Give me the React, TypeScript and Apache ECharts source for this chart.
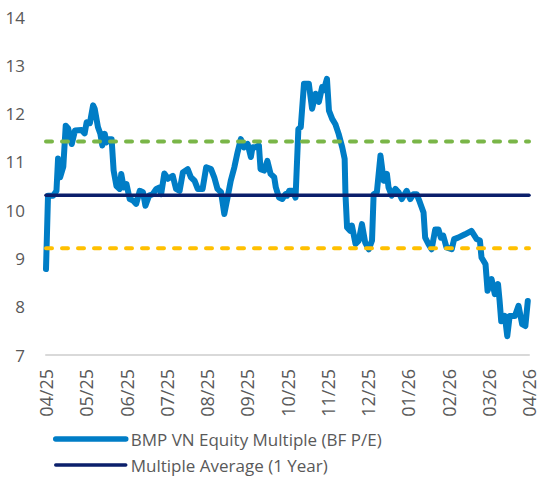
import React, { useEffect, useRef } from "react";
import * as echarts from "echarts";

const tickLabels = ["04/25", "05/25", "06/25", "07/25", "08/25", "09/25", "10/25", "11/25", "12/25", "01/26", "02/26", "03/26", "04/26"];

// position along the axis in months since 04/25
const monthPos = [
  0.0, 0.05, 0.18, 0.26, 0.3, 0.35, 0.43, 0.49, 0.55, 0.64, 0.72, 0.88, 0.96, 1.01, 1.09, 1.17, 1.21, 1.29, 1.35, 1.4,
  1.46, 1.5, 1.54, 1.63, 1.68, 1.75, 1.83, 1.87, 1.93, 2.0, 2.08, 2.16, 2.24, 2.33, 2.41, 2.47, 2.56, 2.65, 2.74, 2.82,
  2.86, 2.94, 3.03, 3.15, 3.23, 3.32, 3.4, 3.52, 3.6, 3.69, 3.77, 3.89, 3.98, 4.1, 4.18, 4.26, 4.35, 4.43, 4.51, 4.59,
  4.68, 4.76, 4.84, 4.92, 5.01, 5.09, 5.13, 5.21, 5.29, 5.33, 5.42, 5.5, 5.58, 5.67, 5.71, 5.79, 5.87, 5.95, 5.99, 6.04,
  6.12, 6.2, 6.27, 6.33, 6.41, 6.53, 6.61, 6.7, 6.78, 6.86, 6.9, 6.98, 7.03, 7.11, 7.19, 7.27, 7.36, 7.42, 7.44, 7.48,
  7.56, 7.6, 7.69, 7.77, 7.85, 7.93, 8.02, 8.1, 8.14, 8.22, 8.31, 8.39, 8.47, 8.51, 8.59, 8.68, 8.76, 8.84, 8.96, 9.05,
  9.13, 9.21, 9.29, 9.38, 9.42, 9.5, 9.58, 9.67, 9.75, 9.81, 9.87, 9.95, 10.08, 10.14, 10.24, 10.41, 10.57, 10.7, 10.78, 10.82,
  10.92, 10.97, 11.07, 11.15, 11.23, 11.27, 11.31, 11.4, 11.46, 11.52, 11.65, 11.74, 11.83, 11.91, 11.97,
];

const peValues = [
  8.78, 10.3, 10.3, 10.4, 11.07, 10.68, 10.9, 11.75, 11.69, 11.37, 11.65, 11.66, 11.59, 11.82, 11.8, 12.17, 12.1, 11.72, 11.58, 11.34,
  11.58, 11.4, 11.47, 11.47, 10.82, 10.5, 10.44, 10.75, 10.47, 10.54, 10.23, 10.2, 10.13, 10.4, 10.37, 10.09, 10.3, 10.33, 10.44, 10.47,
  10.33, 10.76, 10.65, 10.71, 10.44, 10.4, 10.78, 10.85, 10.68, 10.61, 10.44, 10.44, 10.89, 10.85, 10.68, 10.44, 10.37, 9.92, 10.26, 10.61,
  10.89, 11.2, 11.47, 11.3, 11.37, 11.1, 11.3, 11.3, 11.34, 10.85, 10.82, 11.02, 10.75, 10.68, 10.47, 10.26, 10.23, 10.33, 10.3, 10.4,
  10.4, 10.26, 11.68, 11.72, 12.62, 12.62, 12.1, 12.41, 12.24, 12.55, 12.48, 12.72, 12.06, 11.89, 11.78, 11.58, 11.3, 11.06, 10.33, 9.64,
  9.57, 9.68, 9.3, 9.37, 9.71, 9.33, 9.19, 9.37, 10.33, 10.37, 11.13, 10.61, 10.75, 10.47, 10.3, 10.44, 10.37, 10.23, 10.4, 10.23,
  10.33, 10.33, 10.16, 9.95, 9.43, 9.3, 9.19, 9.6, 9.6, 9.43, 9.47, 9.23, 9.19, 9.4, 9.43, 9.5, 9.57, 9.4, 9.37, 9.02,
  8.88, 8.33, 8.57, 8.26, 8.47, 8.12, 7.7, 7.81, 7.39, 7.81, 7.81, 8.02, 7.64, 7.6, 8.12,
];

const averageValue = 10.31;
const upperBand = 11.42;
const lowerBand = 9.21;
const axisStart = 0;
const axisEnd = 12;

const seriesNames = ["BMP VN Equity Multiple (BF P/E)", "Multiple Average (1 Year)"];

const FONT = "Open Sans";
const TEXT = "#595959";
const BLUE = "#007DC6";
const NAVY = "#0B1F6B";

export default function App() {
  const ref = useRef<HTMLDivElement>(null);
  useEffect(() => {
    document.body.style.margin = "0";
    document.body.style.overflow = "hidden";
    document.documentElement.style.overflow = "hidden";
    if (!ref.current) return;
    const chart = echarts.init(ref.current, undefined, { renderer: "svg" });
    const flat = (v: number) => [
      [axisStart, v],
      [axisEnd, v],
    ];
    chart.setOption({
      animation: false,
      textStyle: { fontFamily: FONT },
      grid: { left: 46, right: 10, top: 17, bottom: 125, containLabel: false },
      legend: {
        orient: "vertical",
        left: 53,
        top: 430,
        padding: 0,
        itemWidth: 70,
        itemHeight: 14,
        itemGap: 8,
        data: [
          { name: seriesNames[0], itemStyle: { opacity: 0 }, lineStyle: { width: 5.5, color: BLUE, cap: "round" } },
          { name: seriesNames[1], itemStyle: { opacity: 0 }, lineStyle: { width: 3.5, color: NAVY, cap: "round" } },
        ],
        textStyle: { color: TEXT, fontSize: 17, lineHeight: 18, fontFamily: FONT },
      },
      xAxis: {
        type: "value",
        min: axisStart,
        max: axisEnd,
        interval: 1,
        axisLine: { show: true, lineStyle: { color: "#d9d9d9", width: 2 } },
        axisTick: { show: false },
        splitLine: { show: false },
        axisLabel: {
          rotate: 90,
          margin: 14,
          color: TEXT,
          fontSize: 18,
          lineHeight: 13,
          fontFamily: FONT,
          formatter: (v: number) => tickLabels[Math.round(v)] ?? "",
        },
      },
      yAxis: {
        type: "value",
        min: 7,
        max: 14,
        interval: 1,
        axisLine: { show: false },
        axisTick: { show: false },
        splitLine: { show: false },
        axisLabel: { margin: 21, color: TEXT, fontSize: 17, fontFamily: FONT },
      },
      series: [
        {
          name: seriesNames[0],
          type: "line",
          data: monthPos.map((m, i) => [m, peValues[i]]),
          symbol: "none",
          lineStyle: { color: BLUE, width: 6, cap: "round", join: "round" },
          itemStyle: { color: BLUE },
        },
        {
          name: "upper",
          type: "line",
          data: flat(upperBand),
          symbol: "none",
          lineStyle: { color: "#7AB648", width: 4, type: [6, 10], cap: "round" },
        },
        {
          name: "lower",
          type: "line",
          data: flat(lowerBand),
          symbol: "none",
          lineStyle: { color: "#FFC000", width: 4, type: [6, 10], cap: "round" },
        },
        {
          name: seriesNames[1],
          type: "line",
          data: flat(averageValue),
          symbol: "none",
          lineStyle: { color: NAVY, width: 3.5, cap: "round" },
          itemStyle: { color: NAVY },
        },
      ],
    });
    return () => chart.dispose();
  }, []);
  return <div ref={ref} style={{ width: 539, height: 480 }} />;
}
